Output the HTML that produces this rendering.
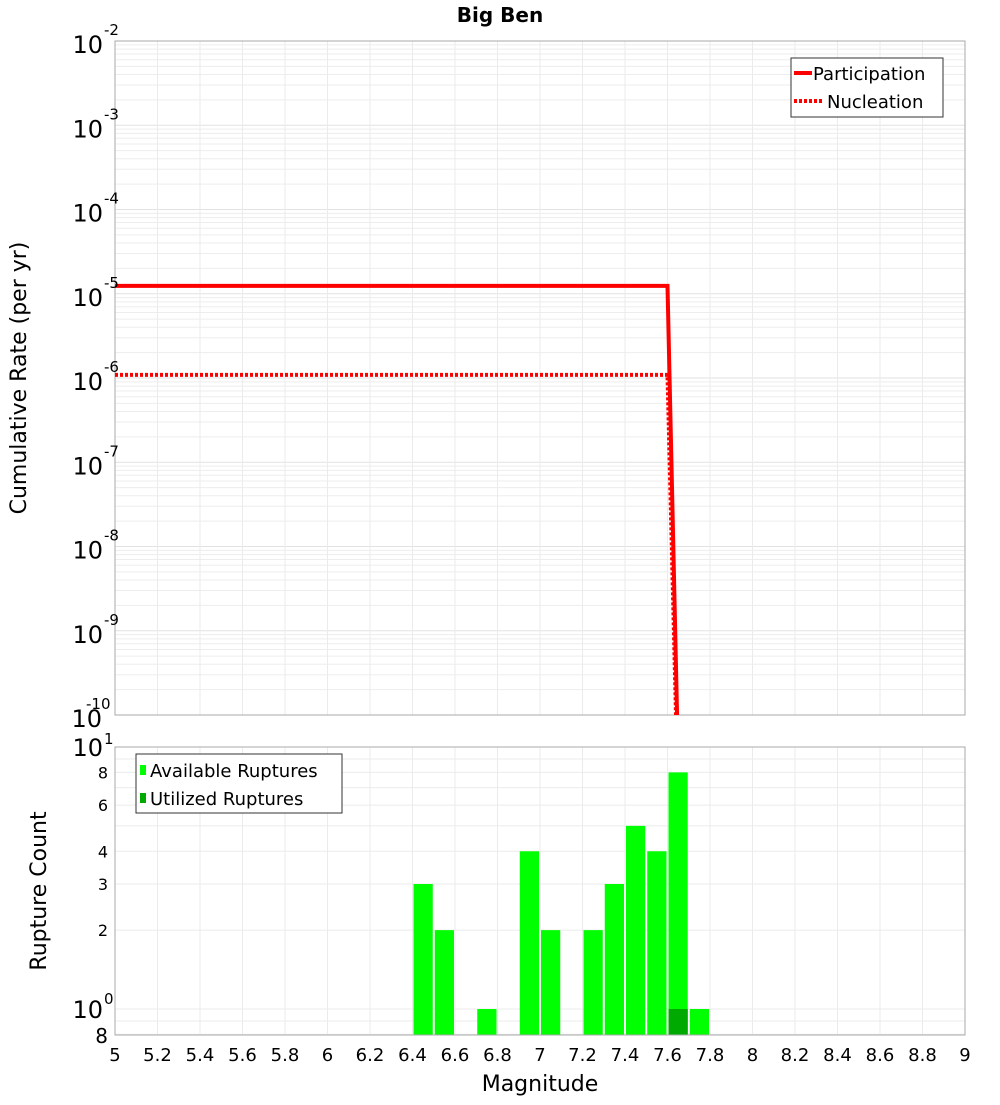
<!DOCTYPE html>
<html><head><meta charset="utf-8"><style>
body{margin:0;background:#fff;font-family:"Liberation Sans","DejaVu Sans",sans-serif}
</style></head><body>
<svg id="c" width="1000" height="1100" xmlns="http://www.w3.org/2000/svg" font-family="DejaVu Sans, Liberation Sans, sans-serif"></svg>
<script>
const partMags=[5.0,7.6,7.645];
const partRates=[1.24e-5,1.24e-5,1e-10];
const nuclMags=[5.0,7.6,7.64];
const nuclRates=[1.09e-6,1.09e-6,1e-10];
const binMags=[6.45,6.55,6.75,6.95,7.05,7.25,7.35,7.45,7.55,7.65,7.75];
const availCounts=[3,2,1,4,2,2,3,5,4,8,1];
const utilMags=[7.65];
const utilCounts=[1];
const xTicks=[5,5.2,5.4,5.6,5.8,6,6.2,6.4,6.6,6.8,7,7.2,7.4,7.6,7.8,8,8.2,8.4,8.6,8.8,9];
const topExps=[-2,-3,-4,-5,-6,-7,-8,-9,-10];
const botTicks=[8,6,4,3,2];

const S=document.getElementById('c');const NS="http://www.w3.org/2000/svg";
function el(t,a,txt){const e=document.createElementNS(NS,t);for(const k in a)e.setAttribute(k,a[k]);if(txt!==undefined)e.textContent=txt;S.appendChild(e);return e;}
const X0=115,X1=965;
const X=m=>X0+(m-5)/4*(X1-X0);
const T0=41,T1=715;
const YT=v=>T0+(-2-Math.log10(v))/8*(T1-T0);
const B0=747,B1=1035;
const bpd=262;
const YB=v=>1009-Math.log10(v)*bpd;

// top grid
for(let d=-10;d<-2;d++)for(let k=2;k<10;k++){const y=YT(k*Math.pow(10,d));const g=el('line',{x1:X0,x2:X1,y1:y,y2:y,stroke:'#ededed','stroke-width':1});}
for(const e of topExps){const y=YT(Math.pow(10,e));const g=el('line',{x1:X0,x2:X1,y1:y,y2:y,stroke:'#e2e2e2'});}
for(const m of xTicks){for(const [a,b] of [[T0,T1],[B0,B1]]){const g=el('line',{x1:X(m),x2:X(m),y1:a,y2:b,stroke:'#ebebeb'});}}
// bottom grid
for(const v of [0.8,0.9,1,2,3,4,5,6,7,8,9]){const y=YB(v);const g=el('line',{x1:X0,x2:X1,y1:y,y2:y,stroke:'#ebebeb'});}

// top frame
let f=el('rect',{x:X0,y:T0,width:X1-X0,height:T1-T0,fill:'none',stroke:'#aaa'});
// lines
function pl(ms,rs,dash,name){const p=ms.map((m,i)=>X(m)+','+YT(rs[i])).join(' ');const l=el('polyline',{points:p,fill:'none',stroke:'#ff0000','stroke-width':4});if(dash)l.setAttribute('stroke-dasharray','3,2');}
pl(nuclMags,nuclRates,true,'nucleation-line');
pl(partMags,partRates,false,'participation-line');
// clip cover below top
// top y ticks
for(const e of topExps){const y=YT(Math.pow(10,e));const t=el('text',{x:e===-10?102:103,y:y+12,'text-anchor':'end','font-size':24},'10');const s=el('text',{x:e===-10?86:104,y:y-6,'font-size':15,'text-anchor':'start'},String(e));}
let yt=el('text',{x:26,y:378,'font-size':22,'text-anchor':'middle',transform:'rotate(-90 26 378)'},'Cumulative Rate (per yr)');
let tt=el('text',{x:500,y:22,'font-size':20,'font-weight':'bold','text-anchor':'middle'},'Big Ben');
// legend top
let lg=el('rect',{x:791,y:58,width:152,height:59,fill:'#fff',stroke:'#333'});
let l1=el('line',{x1:794,x2:812,y1:73,y2:73,stroke:'#f00','stroke-width':4});
let l1t=el('text',{x:813,y:80,'font-size':18},'Participation');
let l2=el('line',{x1:794,x2:822,y1:101,y2:101,stroke:'#f00','stroke-width':4,'stroke-dasharray':'3,2'});
let l2t=el('text',{x:827,y:108,'font-size':18},'Nucleation');

// bottom bars
binMags.forEach((m,i)=>{const x=X(m-0.05)+1,w=X(m+0.05)-X(m-0.05)-2;const y=YB(availCounts[i]);const r=el('rect',{x:x,y:y,width:w,height:B1-y,fill:'#00ff00'});});
utilMags.forEach((m,i)=>{const x=X(m-0.05)+1,w=X(m+0.05)-X(m-0.05)-2;const y=YB(utilCounts[i]);const r=el('rect',{x:x,y:y,width:w,height:B1-y,fill:'#00aa00'});});
f=el('rect',{x:X0,y:B0,width:X1-X0,height:B1-B0,fill:'none',stroke:'#aaa'});
// bottom y ticks
for(const v of botTicks){const t=el('text',{x:108,y:YB(v)+6,'text-anchor':'end','font-size':16},String(v));}
let a=el('text',{x:103,y:756,'text-anchor':'end','font-size':24},'10');
a=el('text',{x:104,y:744,'font-size':15},'1');
a=el('text',{x:103,y:1018,'text-anchor':'end','font-size':24},'10');
a=el('text',{x:104,y:1004,'font-size':15},'0');
a=el('text',{x:108,y:1043,'text-anchor':'end','font-size':20},'8');
// x ticks
for(const m of xTicks){const t=el('text',{x:X(m),y:1061,'text-anchor':'middle','font-size':18},String(m));}
a=el('text',{x:540,y:1091,'text-anchor':'middle','font-size':22},'Magnitude');
a=el('text',{x:46,y:891,'font-size':22,'text-anchor':'middle',transform:'rotate(-90 46 891)'},'Rupture Count');
// bottom legend
a=el('rect',{x:136,y:754,width:206,height:59,fill:'#fff',stroke:'#333'});
a=el('rect',{x:140,y:765,width:6,height:10,fill:'#00ff00'});
a=el('text',{x:150,y:777,'font-size':18},'Available Ruptures');
a=el('rect',{x:140,y:793,width:6,height:10,fill:'#00aa00'});
a=el('text',{x:150,y:805,'font-size':18},'Utilized Ruptures');
</script>
</body></html>
